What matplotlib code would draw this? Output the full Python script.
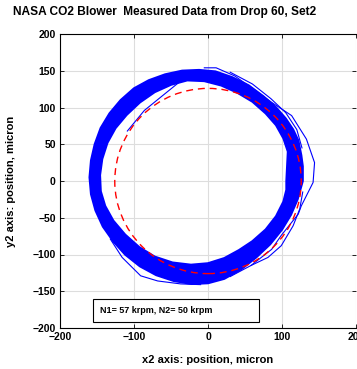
import matplotlib.pyplot as plt
from matplotlib.path import Path
from matplotlib.patches import PathPatch, Circle, Rectangle

plt.rcParams['font.family'] = ['Liberation Sans', 'DejaVu Sans']
plt.rcParams['font.weight'] = 'bold'

# outer and inner edge of the dense orbit band (micron)
outer_x = [128, 128, 126, 122, 115, 105, 92, 75, 55, 33, 10, -12, -35, -58, -80,
           -100, -118, -133, -145, -153, -158, -160, -158, -152, -142, -128, -112,
           -92, -70, -46, -22, 0, 22, 45, 65, 84, 100, 112, 121]
outer_y = [0, 20, 35, 55, 70, 85, 100, 115, 130, 141, 149, 151, 150, 145, 137,
           126, 110, 92, 72, 50, 28, 5, -18, -40, -62, -82, -100,
           -116, -128, -136, -140, -139, -133, -120, -104, -86, -66, -46, -25]
inner_x = [106, 107, 108, 102, 92, 78, 60, 40, 18, -5, -28, -50, -72, -92, -110,
           -125, -136, -143, -146, -145, -139, -128, -112, -93, -72, -48, -23, 0,
           22, 42, 60, 78, 92, 102, 106]
inner_y = [0, 20, 40, 58, 76, 92, 108, 120, 130, 136, 137, 131, 121, 107, 90,
           72, 52, 30, 8, -14, -34, -54, -73, -90, -103, -111, -114, -112,
           -105, -94, -82, -66, -48, -28, -12]

# single stray orbits outside / inside the band
stray_a_x = [-5, 11, 36, 67, 86, 113, 133, 144, 142, 126, 122, 99, 86, 58]
stray_a_y = [154, 154, 143, 121, 107, 89, 57, 25, -2, -34, -45, -74, -93, -115]
stray_b_x = [30, 58, 81, 99, 115, 124, 128]
stray_b_y = [-130, -115, -104, -88, -61, -38, -15]
stray_c_x = [30, 60, 85, 105, 120, 127]
stray_c_y = [148, 132, 112, 93, 70, 45]
stray_d_x = [-132, -116, -91, -68, -37, -10]
stray_d_y = [-79, -104, -129, -136, -140, -141]
stray_e_x = [-109, -86, -64, -37, -10]
stray_e_y = [68, 96, 114, 136, 140]

# reference circle
circle_center = (0, 0)
circle_radius = 126

x_ticks = [-200, -100, 0, 100, 200]
y_ticks = [-200, -150, -100, -50, 0, 50, 100, 150, 200]
speed_label = 'N1= 57 krpm, N2= 50 krpm'

fig = plt.figure(figsize=(3.57, 3.69), dpi=100)
ax = fig.add_axes([60 / 357, 41 / 369, 296 / 357, 294 / 369])

# band: outer loop plus reversed inner loop makes a ring
verts = list(zip(outer_x, outer_y)) + [(outer_x[0], outer_y[0])]
codes = [Path.MOVETO] + [Path.LINETO] * (len(outer_x) - 1) + [Path.CLOSEPOLY]
inner = list(zip(inner_x, inner_y))[::-1]
verts += inner + [inner[0]]
codes += [Path.MOVETO] + [Path.LINETO] * (len(inner) - 1) + [Path.CLOSEPOLY]
ax.add_patch(PathPatch(Path(verts, codes), facecolor='#0000ff', edgecolor='#0000ff',
                       lw=1.6, joinstyle='round', zorder=2))

for sx, sy in [(stray_a_x, stray_a_y), (stray_b_x, stray_b_y), (stray_c_x, stray_c_y),
               (stray_d_x, stray_d_y), (stray_e_x, stray_e_y)]:
    ax.plot(sx, sy, color='#0000ff', lw=0.8, zorder=2)

ax.add_patch(Circle(circle_center, circle_radius, fill=False, edgecolor='#ff0000',
                    lw=1.0, linestyle=(0, (5, 3.5)), zorder=3))

ax.add_patch(Rectangle((-155, -191.5), 224, 31, fill=True, facecolor='white',
                       edgecolor='black', lw=0.8, zorder=4))
ax.text(-146, -176, speed_label, fontsize=6.5, fontweight='bold', va='center',
        ha='left', zorder=5)

ax.set_xlim(-200, 200)
ax.set_ylim(-200, 200)
ax.set_xticks(x_ticks)
ax.set_yticks(y_ticks)
ax.tick_params(direction='in', length=3, width=0.6, top=True, right=True,
               labelsize=7.5, pad=3)
for lab in ax.get_xticklabels() + ax.get_yticklabels():
    lab.set_fontweight('bold')
ax.grid(True, color='#dddddd', lw=0.8)
ax.set_axisbelow(True)
for s in ax.spines.values():
    s.set_linewidth(0.8)
ax.spines['right'].set_visible(False)

ax.set_xlabel('x2 axis: position, micron', fontsize=8, fontweight='bold', labelpad=9)
ax.set_ylabel('y2 axis: position, micron', fontsize=8, fontweight='bold', labelpad=12)
fig.text(13 / 357, 1 - 12 / 369, 'NASA CO2 Blower  Measured Data from Drop 60, Set2',
         fontsize=8.6, fontweight='bold', ha='left', va='center')

fig.savefig('out.png', dpi=100)
